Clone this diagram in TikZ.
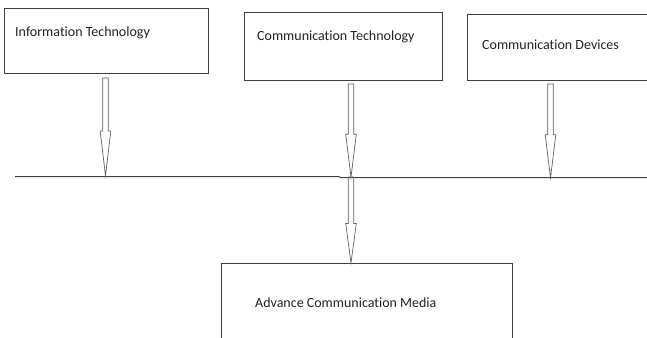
\documentclass[tikz,border=0pt]{standalone}
\usepackage{fontspec}
\setmainfont[Ligatures={NoCommon}]{Carlito}
\usetikzlibrary{calc}
\definecolor{edge}{HTML}{404040}
\definecolor{arrowline}{HTML}{606060}
\definecolor{ink}{HTML}{222222}
\tikzset{
  box/.style={draw=edge, line width=1pt, fill=white, anchor=north west, inner sep=0pt},
  lbl/.style={anchor=west, text=ink, inner sep=0pt, font=\fontsize{14}{16}\selectfont},
  % hollow block arrow from start to target, pointing along the y axis
  blockarrow/.style={draw=arrowline, line width=0.7pt, line join=miter, to path={
    let \p1=(\tikztostart), \p2=(\tikztotarget), \n1={0.46*(\y1-\y2)} in
    (\x1-2.7pt,\y1) -- (\x1-2.7pt,\y2+\n1) -- (\x1-5.3pt,\y2+\n1) -- (\x2,\y2)
    -- (\x1+5.3pt,\y2+\n1) -- (\x1+2.7pt,\y2+\n1) -- (\x1+2.7pt,\y1) -- cycle}},
  bus/.style={draw=edge, line width=1pt}
}
\begin{document}
\begin{tikzpicture}[x=1pt,y=-1pt]
  \useasboundingbox[fill=white] (0,0) rectangle (647,337);

  % source boxes
  \node[box, minimum width=204pt, minimum height=65pt] (it) at (4,8) {};
  \node[lbl] (itl) at (15,33) {Information Technology};
  \node[box, minimum width=198pt, minimum height=68pt] (ct) at (244,12) {};
  \node[lbl] (ctl) at (257,37) {Communication Technology};
  \node[box, minimum width=190pt, minimum height=66pt] (cd) at (467,14) {};
  \node[lbl] (cdl) at (482,45) {Communication Devices};

  % target box (runs off the bottom edge)
  \node[box, minimum width=291pt, minimum height=90pt] (acm) at (221,263) {};
  \node[lbl] (acml) at (255,303) {Advance Communication Media};

  % horizontal bus line
  \coordinate (busL) at (15,176.5);
  \coordinate (busM) at (338,176.5);
  \coordinate (busN) at (341,177.5);
  \coordinate (busR) at (647,177.5);
  \draw[bus] (busL) -- (busM) -- (busN) -- (busR);

  % arrow end points
  \coordinate (a1s) at ($(it.south west)+(101.5,4)$);
  \coordinate (a1e) at (105.5,176);
  \coordinate (a2s) at ($(ct.south west)+(107,3)$);
  \coordinate (a2e) at (351,177);
  \coordinate (a3s) at ($(cd.south west)+(83.5,3)$);
  \coordinate (a3e) at (550.5,178);
  \coordinate (a4s) at (351,177);
  \coordinate (a4e) at (acm.north west -| a4s);

  \draw[blockarrow] (a1s) to (a1e);
  \draw[blockarrow] (a2s) to (a2e);
  \draw[blockarrow] (a3s) to (a3e);
  \draw[blockarrow] (a4s) to (a4e);
\end{tikzpicture}
\end{document}
